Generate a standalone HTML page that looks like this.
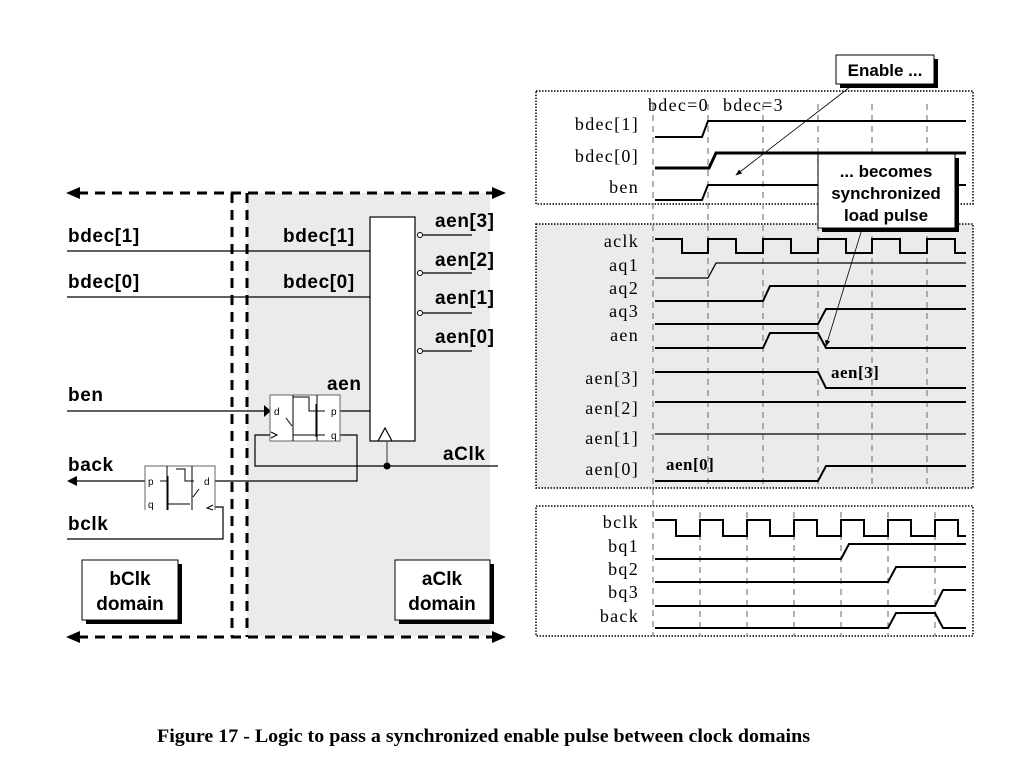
<!DOCTYPE html>
<html><head><meta charset="utf-8"><style>body{margin:0;background:#fff}svg{display:block}</style></head><body>
<svg width="1036" height="766" viewBox="0 0 1036 766" xmlns="http://www.w3.org/2000/svg" font-family="Liberation Sans, sans-serif">
<defs>
<marker id="ahs" viewBox="0 0 10 10" refX="9" refY="5" markerWidth="8" markerHeight="8" orient="auto"><path d="M0,1L10,5L0,9z" fill="#000"/></marker>
</defs>
<rect x="247" y="193" width="243" height="443" fill="#ebebeb"/>
<g stroke="#000" stroke-width="3" stroke-dasharray="10,7" fill="none">
<line x1="78" y1="193" x2="494" y2="193"/>
<line x1="78" y1="637" x2="494" y2="637"/>
<line x1="232" y1="193" x2="232" y2="637"/>
<line x1="247" y1="193" x2="247" y2="637"/>
</g>
<path d="M66,193L80,187L80,199z M506,193L492,187L492,199z M66,637L80,631L80,643z M506,637L492,631L492,643z" fill="#000"/>
<g font-weight="bold" font-size="19" letter-spacing="0.6">
<text x="68" y="242">bdec[1]</text><text x="283" y="242">bdec[1]</text>
<text x="68" y="288">bdec[0]</text><text x="283" y="288">bdec[0]</text>
<text x="68" y="401">ben</text><text x="68" y="471">back</text><text x="68" y="530">bclk</text>
<text x="435" y="227">aen[3]</text><text x="435" y="266">aen[2]</text><text x="435" y="304">aen[1]</text><text x="435" y="343">aen[0]</text>
<text x="327" y="390">aen</text><text x="443" y="460">aClk</text><text x="373" y="417" font-size="20">ld</text>
</g>
<g stroke="#000" stroke-width="1.2" fill="none">
<line x1="67" y1="251" x2="370" y2="251"/>
<line x1="67" y1="297" x2="370" y2="297"/>
<line x1="67" y1="411" x2="264" y2="411"/>
<line x1="340" y1="411" x2="370" y2="411"/>
<rect x="370" y="217" width="45" height="224" fill="#fff"/>
<path d="M378,441L385,428L392,441"/>
<line x1="387" y1="441" x2="387" y2="466" stroke="#555"/>
<path d="M270,435H255V466H498"/>
<path d="M340,435H357V481H215"/>
<line x1="145" y1="481" x2="76" y2="481"/>
<path d="M67,539H223V507H215"/>
<line x1="423" y1="235" x2="472" y2="235"/><line x1="423" y1="273" x2="472" y2="273"/>
<line x1="423" y1="313" x2="472" y2="313"/><line x1="423" y1="351" x2="472" y2="351"/>
</g>
<g fill="#fff" stroke="#000" stroke-width="1"><circle cx="420" cy="235" r="2.5"/><circle cx="420" cy="273" r="2.5"/><circle cx="420" cy="313" r="2.5"/><circle cx="420" cy="351" r="2.5"/></g>
<path d="M264,405L271,411L264,417z M67,481L77,476L77,486z" fill="#000"/>
<circle cx="387" cy="466" r="3.5" fill="#000"/>
<g stroke="#000" stroke-width="1" fill="#fff">
<rect x="270" y="395" width="70" height="46" stroke="#666"/>
<line x1="293" y1="395" x2="293" y2="441"/><line x1="317" y1="395" x2="317" y2="441"/>
<path d="M293,397H309V411H325M293,435H325M316,404V437" fill="none"/>
<path d="M286,418L292,426" fill="none"/><path d="M271,432L277,435L271,438" fill="none"/>
</g>
<g font-size="10"><text x="274" y="415">d</text><text x="331" y="415">p</text><text x="331" y="439">q</text></g>
<g stroke="#000" stroke-width="1" fill="#fff">
<path d="M145,510V466H215V510" stroke="#666"/>
<line x1="167" y1="466" x2="167" y2="510"/><line x1="192" y1="466" x2="192" y2="510"/>
<path d="M167,481H160M176,469H185V481H194M167,504H190M168,476V510" fill="none"/>
<path d="M193,497L199,489" fill="none"/><path d="M213,505L207,508L213,510" fill="none"/>
</g>
<g font-size="10"><text x="148" y="485">p</text><text x="148" y="508">q</text><text x="204" y="485">d</text></g>
<rect x="86" y="564" width="96" height="60" fill="#000"/><rect x="82" y="560" width="96" height="60" fill="#fff" stroke="#000"/>
<rect x="399" y="564" width="95" height="60" fill="#000"/><rect x="395" y="560" width="95" height="60" fill="#fff" stroke="#000"/>
<g font-weight="bold" font-size="19" text-anchor="middle"><text x="130" y="585">bClk</text><text x="130" y="610">domain</text><text x="442" y="585">aClk</text><text x="442" y="610">domain</text></g>

<rect x="536" y="224" width="437" height="264" fill="#ebebeb"/>
<g fill="none" stroke="#000" stroke-width="1.5" stroke-dasharray="1.5,1.5">
<rect x="536" y="91" width="437" height="113"/><rect x="536" y="224" width="437" height="264"/><rect x="536" y="506" width="437" height="130"/>
</g>
<g stroke="#888" stroke-width="1.3" stroke-dasharray="6,5">
<line x1="653" y1="104" x2="653" y2="636"/>
<line x1="708" y1="104" x2="708" y2="488"/><line x1="763" y1="104" x2="763" y2="488"/><line x1="818" y1="104" x2="818" y2="488"/><line x1="872" y1="104" x2="872" y2="488"/><line x1="927" y1="104" x2="927" y2="488"/>
<line x1="700" y1="512" x2="700" y2="636"/><line x1="747" y1="512" x2="747" y2="636"/><line x1="794" y1="512" x2="794" y2="636"/><line x1="841" y1="512" x2="841" y2="636"/><line x1="888" y1="512" x2="888" y2="636"/><line x1="935" y1="512" x2="935" y2="636"/>
</g>
<g font-family="Liberation Serif, serif" font-size="18" letter-spacing="1.3" text-anchor="end">
<text x="639" y="130">bdec[1]</text><text x="639" y="162">bdec[0]</text><text x="639" y="193">ben</text>
<text x="639" y="247">aclk</text><text x="639" y="271">aq1</text><text x="639" y="294">aq2</text><text x="639" y="317">aq3</text><text x="639" y="341">aen</text>
<text x="639" y="384">aen[3]</text><text x="639" y="414">aen[2]</text><text x="639" y="444">aen[1]</text><text x="639" y="475">aen[0]</text>
<text x="639" y="528">bclk</text><text x="639" y="552">bq1</text><text x="639" y="575">bq2</text><text x="639" y="598">bq3</text><text x="639" y="622">back</text>
</g>
<g font-family="Liberation Serif, serif" font-size="18" letter-spacing="1.3"><text x="648" y="111">bdec=0</text><text x="723" y="111">bdec=3</text></g>
<g font-family="Liberation Serif, serif" font-size="17" font-weight="bold" letter-spacing="0.5"><text x="831" y="378">aen[3]</text><text x="666" y="470">aen[0]</text></g>
<g fill="none" stroke="#000" stroke-width="2">
<path d="M655,137H702L708,121H966"/>
<path d="M655,168H709L716,153H966" stroke-width="3"/>
<path d="M655,200H702L708,185H966"/>
<path d="M655,239H682V253H708V239H736V253H763V239H791V253H818V239H846V253H872V239H900V253H927V239H955V253H966"/>
<path d="M655,278H708L716,263H966" stroke-width="1.3"/>
<path d="M655,301H763L770,286H966"/>
<path d="M655,324H818L826,309H966"/>
<path d="M655,348H763L770,333H818L826,348H966"/>
<path d="M655,372H818L826,388H966"/>
<path d="M655,402H966"/>
<path d="M655,434H966" stroke-width="1.3"/>
<path d="M655,481H818L826,466H966"/>
<path d="M655,520H676V536H700V520H723V536H747V520H770V536H794V520H817V536H841V520H864V536H888V520H911V536H935V520H958V536H966"/>
<path d="M655,559H841L849,544H966"/>
<path d="M655,582H888L896,567H966"/>
<path d="M655,606H935L943,590H966" />
<path d="M655,628H888L896,613H935L943,628H966"/>
</g>
<rect x="840" y="59" width="98" height="29" fill="#000"/><rect x="836" y="55" width="98" height="29" fill="#fff" stroke="#000"/>
<text x="885" y="76" text-anchor="middle" font-weight="bold" font-size="17">Enable ...</text>
<rect x="822" y="158" width="137" height="74" fill="#000"/><rect x="818" y="154" width="137" height="74" fill="#fff" stroke="#000"/>
<g font-weight="bold" font-size="17" text-anchor="middle"><text x="886" y="177">... becomes</text><text x="886" y="199">synchronized</text><text x="886" y="221">load pulse</text></g>
<line x1="850" y1="87" x2="736" y2="175" stroke="#000" stroke-width="0.8" marker-end="url(#ahs)"/>
<line x1="862" y1="229" x2="826" y2="346" stroke="#000" stroke-width="0.8" marker-end="url(#ahs)"/>
<text x="157" y="742" textLength="653" lengthAdjust="spacingAndGlyphs" font-family="Liberation Serif, serif" font-weight="bold" font-size="19">Figure 17 - Logic to pass a synchronized enable pulse between clock domains</text>
</svg>
</body></html>
